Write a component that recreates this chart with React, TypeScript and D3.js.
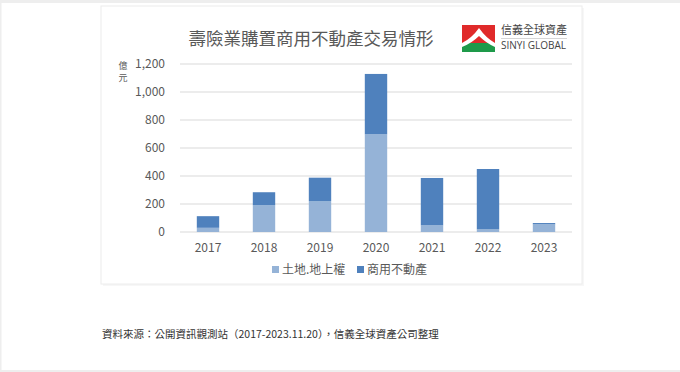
import React from "react";
import * as d3 from "d3";

const years = ["2017", "2018", "2019", "2020", "2021", "2022", "2023"];
const landValues = [30, 191, 221, 698, 48, 19, 55];
const commercialValues = [83, 93, 167, 431, 338, 431, 9];
const yTicks = [0, 200, 400, 600, 800, 1000, 1200];
const seriesNames = ["土地.地上權", "商用不動產"];
const seriesColors = ["#95b3d7", "#4f81bd"];

const title = "壽險業購置商用不動產交易情形";
const source = "資料來源：公開資訊觀測站（2017-2023.11.20），信義全球資產公司整理";

const cjk = "'Noto Sans CJK TC', 'Noto Sans', sans-serif";
const textGrey = "#595959";

const App: React.FC = () => {
  const width = 680;
  const height = 372;
  const plot = { left: 180, right: 572, top: 64, bottom: 232 };

  const x = d3
    .scaleBand<string>()
    .domain(years)
    .range([plot.left, plot.right])
    .paddingInner(0.6)
    .paddingOuter(0.3);

  const y = d3.scaleLinear().domain([0, 1200]).range([plot.bottom, plot.top]);

  const rows = years.map((yr, i) => ({
    year: yr,
    land: landValues[i],
    commercial: commercialValues[i],
  }));
  const stack = d3.stack<(typeof rows)[number]>().keys(["land", "commercial"]);
  const layers = stack(rows);

  return (
    <svg
      width={width}
      height={height}
      style={{ position: "absolute", left: 0, top: 0, background: "#fff" }}
    >
      {/* page frame */}
      <rect x={0} y={0} width={width} height={3} fill="#eeeeee" />
      <rect x={0} y={0} width={1.5} height={height} fill="#eeeeee" />
      <rect x={0} y={height - 2} width={width} height={2} fill="#eeeeee" />

      {/* chart card */}
      <rect x={103} y={8} width={481} height={278} fill="#f7f7f7" />
      <rect x={101} y={6} width={481} height={278} fill="#fff" stroke="#ececec" strokeWidth={1} />

      <text
        x={311}
        y={45}
        textAnchor="middle"
        fontFamily={cjk}
        fontSize={17.5}
        fill={textGrey}
      >
        {title}
      </text>

      {/* logo */}
      <g>
        <rect x={462} y={25} width={33} height={27} fill="#e02a2a" />
        <rect x={462} y={43} width={33} height={9} fill="#1e9a4a" />
        <path
          d="M462,43 Q472,38 479,28 Q486,38 495,43 L495,47 Q486,43 479,36 Q472,43 462,47 Z"
          fill="#fff"
        />
        <text x={501} y={34} fontFamily={cjk} fontSize={11} fill="#444">
          信義全球資產
        </text>
        <line x1={501} x2={567} y1={38.5} y2={38.5} stroke="#bbb" strokeWidth={0.6} />
        <text x={501} y={49} fontFamily="'Open Sans', sans-serif" fontSize={10} fill="#444">
          SINYI GLOBAL
        </text>
      </g>

      {/* gridlines and y ticks */}
      {yTicks.map((t) => (
        <g key={t}>
          <line
            x1={plot.left}
            x2={plot.right}
            y1={y(t)}
            y2={y(t)}
            stroke="#d9d9d9"
            strokeWidth={1}
          />
          <text
            x={165}
            y={y(t)}
            dy="0.35em"
            textAnchor="end"
            fontFamily={cjk}
            fontSize={12}
            fill={textGrey}
          >
            {d3.format(",")(t)}
          </text>
        </g>
      ))}

      <text x={123} y={69} textAnchor="middle" fontFamily={cjk} fontSize={9} fill={textGrey}>
        億
      </text>
      <text x={123} y={81} textAnchor="middle" fontFamily={cjk} fontSize={9} fill={textGrey}>
        元
      </text>

      {/* bars */}
      {layers.map((layer, li) => (
        <g key={layer.key} fill={seriesColors[li]}>
          {layer.map((d) => (
            <rect
              key={d.data.year}
              x={x(d.data.year)!}
              y={y(d[1])}
              width={x.bandwidth()}
              height={y(d[0]) - y(d[1])}
            />
          ))}
        </g>
      ))}

      {/* x labels */}
      {years.map((yr) => (
        <text
          key={yr}
          x={x(yr)! + x.bandwidth() / 2}
          y={252}
          textAnchor="middle"
          fontFamily={cjk}
          fontSize={12}
          fill={textGrey}
        >
          {yr}
        </text>
      ))}

      {/* legend */}
      {seriesNames.map((name, i) => {
        const lx = [272, 357][i];
        return (
          <g key={name}>
            <rect x={lx} y={266} width={7} height={7} fill={seriesColors[i]} />
            <text x={lx + 10} y={274} fontFamily={cjk} fontSize={12} fill={textGrey}>
              {name}
            </text>
          </g>
        );
      })}

      <text x={102} y={338} fontFamily={cjk} fontSize={10.5} fill="#333">
        {source}
      </text>
    </svg>
  );
};

export default App;
